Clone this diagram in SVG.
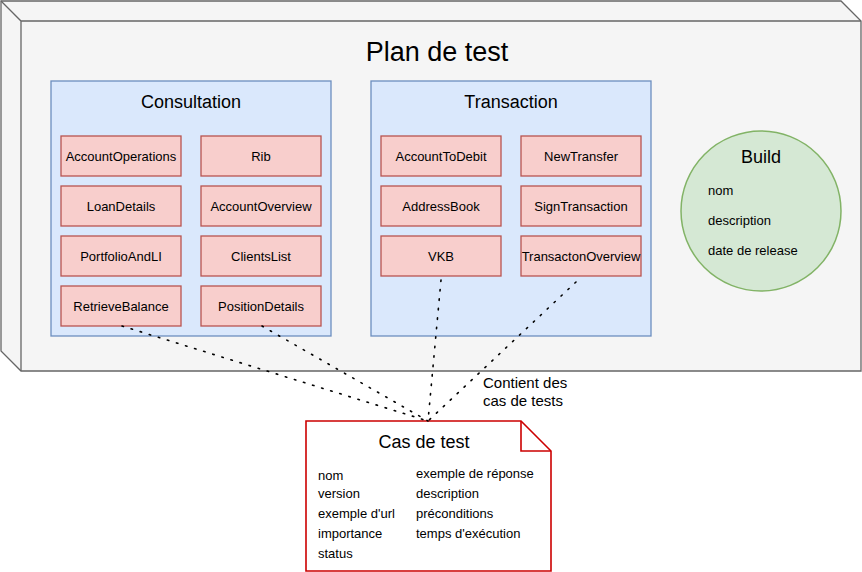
<svg xmlns="http://www.w3.org/2000/svg" width="862" height="572" viewBox="0 0 862 572">
<style>
text{font-family:"Liberation Sans",Arial,sans-serif;fill:#000}
.box{fill:#f8cecc;stroke:#b85450;stroke-width:1.3}
.grp{fill:#dae8fc;stroke:#6c8ebf;stroke-width:1.3}
.lbl{font-size:13px;text-anchor:middle}
.t18{font-size:18px;text-anchor:middle}
.s13{font-size:13px}
.dot{fill:none;stroke:#000;stroke-width:1.6;stroke-dasharray:1.5 8;stroke-linecap:round}
</style>
<rect width="862" height="572" fill="#fff"/>
<g id="plan">
<path d="M1,1 L841,1 L861,21 L861,371 L21,371 L1,351 Z" fill="#f5f5f5" stroke="#666" stroke-width="1.3"/>
<path d="M1,1 L21,21 L861,21 M21,21 L21,371" fill="none" stroke="#666" stroke-width="1.3"/>
<text x="437" y="61" font-size="27" text-anchor="middle">Plan de test</text>
</g>
<g id="consultation">
<rect class="grp" x="51" y="81" width="280" height="255"/>
<text class="t18" x="191" y="108">Consultation</text>
</g>
<g id="transaction">
<rect class="grp" x="371" y="81" width="280" height="255"/>
<text class="t18" x="511" y="108">Transaction</text>
</g>
<g id="AccountOperations"><rect class="box" x="61" y="136" width="120" height="40"/><text class="lbl" x="121" y="160.5">AccountOperations</text></g>
<g id="Rib"><rect class="box" x="201" y="136" width="120" height="40"/><text class="lbl" x="261" y="160.5">Rib</text></g>
<g id="LoanDetails"><rect class="box" x="61" y="186" width="120" height="40"/><text class="lbl" x="121" y="210.5">LoanDetails</text></g>
<g id="AccountOverview"><rect class="box" x="201" y="186" width="120" height="40"/><text class="lbl" x="261" y="210.5">AccountOverview</text></g>
<g id="PortfolioAndLI"><rect class="box" x="61" y="236" width="120" height="40"/><text class="lbl" x="121" y="260.5">PortfolioAndLI</text></g>
<g id="ClientsList"><rect class="box" x="201" y="236" width="120" height="40"/><text class="lbl" x="261" y="260.5">ClientsList</text></g>
<g id="RetrieveBalance"><rect class="box" x="61" y="286" width="120" height="40"/><text class="lbl" x="121" y="310.5">RetrieveBalance</text></g>
<g id="PositionDetails"><rect class="box" x="201" y="286" width="120" height="40"/><text class="lbl" x="261" y="310.5">PositionDetails</text></g>
<g id="AccountToDebit"><rect class="box" x="381" y="136" width="120" height="40"/><text class="lbl" x="441" y="160.5">AccountToDebit</text></g>
<g id="NewTransfer"><rect class="box" x="521" y="136" width="120" height="40"/><text class="lbl" x="581" y="160.5">NewTransfer</text></g>
<g id="AddressBook"><rect class="box" x="381" y="186" width="120" height="40"/><text class="lbl" x="441" y="210.5">AddressBook</text></g>
<g id="SignTransaction"><rect class="box" x="521" y="186" width="120" height="40"/><text class="lbl" x="581" y="210.5">SignTransaction</text></g>
<g id="VKB"><rect class="box" x="381" y="236" width="120" height="40"/><text class="lbl" x="441" y="260.5">VKB</text></g>
<g id="TransactonOverview"><rect class="box" x="521" y="236" width="120" height="40"/><text class="lbl" x="581" y="260.5">TransactonOverview</text></g>
<g id="build">
<circle cx="761" cy="211" r="80" fill="#d5e8d4" stroke="#82b366" stroke-width="1.5"/>
<text class="t18" x="761" y="163">Build</text>
<text class="s13" x="708" y="195">nom</text>
<text class="s13" x="708" y="225">description</text>
<text class="s13" x="708" y="255">date de release</text>
</g>
<g id="cas">
<path d="M306,421 L521,421 L551,451 L551,571 L306,571 Z" fill="#fff" stroke="#cc0000" stroke-width="1.6"/>
<path d="M521,421 L521,451 L551,451" fill="none" stroke="#cc0000" stroke-width="1.6"/>
<text class="t18" x="424" y="448">Cas de test</text>
<text class="s13" x="318" y="480">nom</text>
<text class="s13" x="318" y="498">version</text>
<text class="s13" x="318" y="518">exemple d'url</text>
<text class="s13" x="318" y="538">importance</text>
<text class="s13" x="318" y="558">status</text>
<text class="s13" x="416" y="478">exemple de réponse</text>
<text class="s13" x="416" y="498">description</text>
<text class="s13" x="416" y="518">préconditions</text>
<text class="s13" x="416" y="538">temps d'exécution</text>
</g>
<g id="connectors">
<path class="dot" d="M122,326 L428,421"/>
<path class="dot" d="M262,326 L428,421"/>
<path class="dot" d="M441,280 L428,421"/>
<path class="dot" d="M576,282 L428,421"/>
<text x="483" y="388" font-size="15">Contient des</text>
<text x="483" y="406" font-size="15">cas de tests</text>
</g>
</svg>
